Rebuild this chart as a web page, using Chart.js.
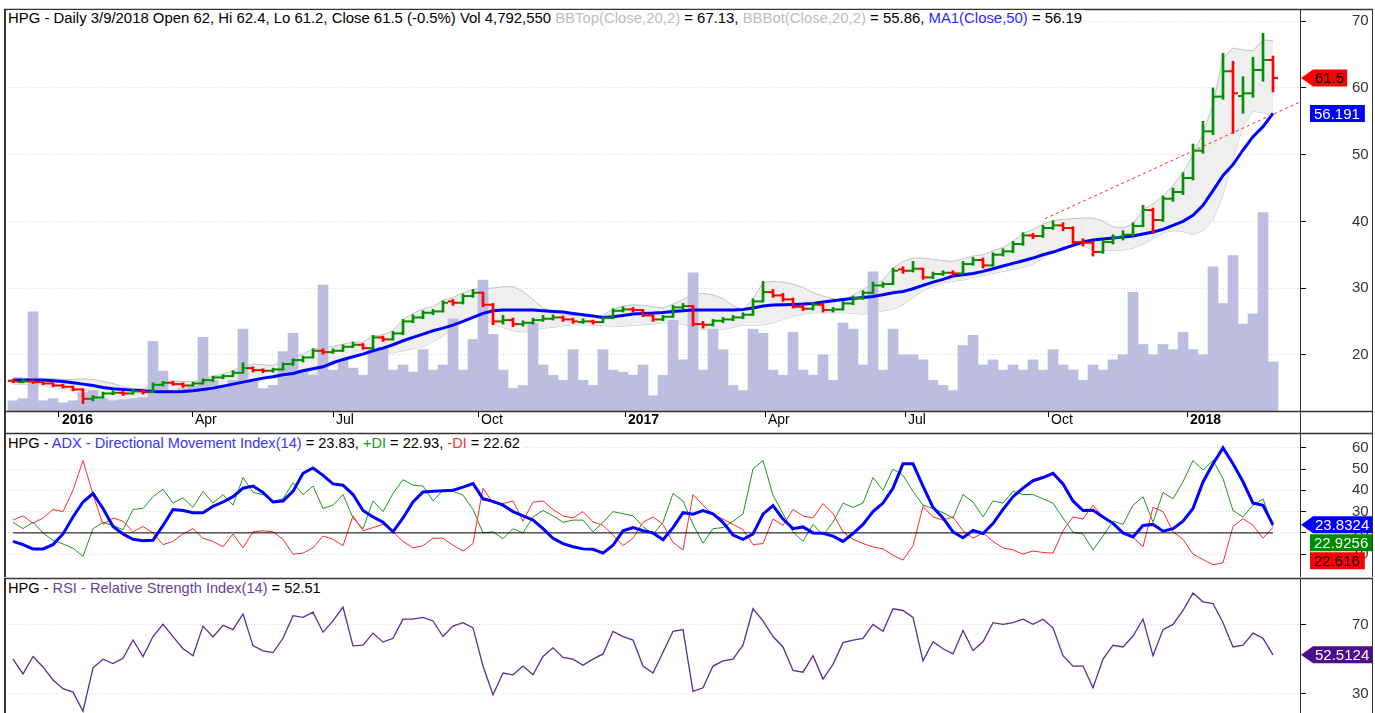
<!DOCTYPE html>
<html>
<head>
<meta charset="utf-8">
<title>HPG Daily</title>
<script src="https://cdn.jsdelivr.net/npm/chart.js@4.4.1/dist/chart.umd.min.js"></script>
<style>
  html, body { margin:0; padding:0; background:#fff; }
  body { width:1375px; height:713px; overflow:hidden; position:relative; font-family:"Liberation Sans", Arial, sans-serif; }
  .pane { position:absolute; left:0; width:1375px; }
  .pane canvas { display:block; }
  .ttl { position:absolute; left:8px; z-index:5; font-size:14.6px; line-height:16px; background:#fff; color:#000; white-space:nowrap; padding-right:3px; }
  .ttl.main { font-size:14.9px; }
</style>
</head>
<body>
<div class="pane" style="top:0;height:433px"><canvas id="cPrice" width="1375" height="433"></canvas></div>
<div class="pane" style="top:432px;height:145px"><canvas id="cAdx" width="1375" height="145"></canvas></div>
<div class="pane" style="top:577px;height:136px"><canvas id="cRsi" width="1375" height="136"></canvas></div>

<div class="ttl main" style="top:10px">HPG - Daily 3/9/2018 Open 62, Hi 62.4, Lo 61.2, Close 61.5 (-0.5%) Vol 4,792,550 <span style="color:#bdbdbd">BBTop(Close,20,2)</span> = 67.13, <span style="color:#bdbdbd">BBBot(Close,20,2)</span> = 55.86, <span style="color:#2b2bff">MA1(Close,50)</span> = 56.19</div>
<div class="ttl" style="top:435px">HPG - <span style="color:#3434ff">ADX - Directional Movement Index(14)</span> = 23.83, <span style="color:#1a9a1a">+DI</span> = 22.93, <span style="color:#ff3030">-DI</span> = 22.62</div>
<div class="ttl" style="top:580px">HPG - <span style="color:#6b3fa0">RSI - Relative Strength Index(14)</span> = 52.51</div>

<script>
// ---------------- DATA (one sample ≈ 4-5 trading days, Dec 2015 – 9 Mar 2018) ----------------
const openP = [16.1,15.9,16.0,15.9,15.7,15.4,15.2,14.8,13.4,13.6,
 14.2,14.3,14.2,14.5,14.4,15.5,15.8,15.6,15.4,15.7,
 16.2,16.6,16.8,17.3,18.0,17.7,17.6,17.8,18.6,19.2,
 19.6,20.6,20.4,20.6,21.2,21.5,21.0,22.6,22.3,23.2,
 25.0,25.6,26.3,26.5,28.0,27.8,28.8,29.3,27.5,25.0,
 25.2,24.6,24.8,25.2,25.4,25.6,25.3,24.9,25.0,24.9,
 25.5,26.6,26.8,26.7,25.9,25.3,25.7,27.1,27.3,24.6,
 24.5,25.1,25.3,25.6,26.0,28.0,29.4,28.9,28.3,27.2,
 26.9,27.5,26.7,26.8,27.7,28.5,29.3,30.4,30.6,32.8,
 32.6,32.9,31.6,32.1,32.3,32.2,33.6,34.2,33.4,35.0,
 35.5,36.6,37.9,37.8,39.0,39.4,39.0,36.9,36.8,35.4,
 36.9,37.6,38.0,39.3,41.7,40.2,43.4,44.4,46.5,50.6,
 53.5,58.7,62.5,58.8,59.2,62.7,64.2];
const highP = [16.3,16.3,16.2,16.0,15.8,15.6,15.3,14.9,13.9,14.4,
 14.6,14.5,14.8,14.7,15.8,16.0,16.0,15.8,15.9,16.4,
 16.8,17.0,17.6,18.8,18.2,17.9,18.0,18.8,19.4,19.8,
 20.9,20.9,20.9,21.5,21.9,21.7,22.9,22.8,23.5,25.3,
 26.0,26.6,26.8,28.1,28.3,29.1,29.8,29.4,27.7,25.9,
 25.5,25.1,25.5,25.9,26.0,25.8,25.5,25.4,25.2,25.7,
 26.9,27.2,27.1,26.8,26.0,25.9,27.4,27.7,27.4,25.0,
 25.3,25.6,25.9,26.3,28.4,31.0,29.8,29.2,28.5,27.5,
 27.8,27.7,27.1,28.0,28.8,29.6,30.9,30.9,33.0,33.2,
 34.0,33.0,32.4,32.6,32.6,34.0,34.6,34.5,35.3,35.9,
 37.0,38.3,38.2,39.4,40.1,39.8,39.2,37.4,37.0,37.2,
 38.0,38.6,39.8,42.4,42.0,43.8,45.0,47.3,51.6,55.0,
 60.0,65.2,64.0,61.7,64.6,68.2,64.8];
const lowP = [15.8,15.8,15.7,15.5,15.2,15.0,14.6,12.7,13.1,13.5,
 14.0,13.9,14.1,14.1,14.3,15.3,15.4,15.1,15.3,15.6,
 16.0,16.4,16.7,17.2,17.4,17.3,17.4,17.7,18.4,18.9,
 19.5,20.1,20.2,20.5,21.1,20.8,20.9,22.0,22.2,23.0,
 24.8,25.4,26.0,26.4,27.4,27.6,28.6,27.2,24.5,24.6,
 24.2,24.3,24.6,25.0,25.2,25.0,24.7,24.7,24.6,24.8,
 25.4,26.4,26.4,25.7,25.0,25.1,25.6,26.9,24.3,24.0,
 24.3,24.8,25.1,25.4,25.9,27.9,28.6,28.0,27.0,26.6,
 26.7,26.4,26.4,26.7,27.5,28.3,29.2,30.1,30.5,32.2,
 32.4,31.3,31.4,31.9,31.9,32.1,33.4,33.0,33.3,34.8,
 35.3,36.4,37.4,37.6,38.8,38.6,36.6,36.3,34.8,35.2,
 36.6,37.2,37.8,39.2,38.2,40.0,43.0,44.0,46.2,50.2,
 53.0,58.3,53.2,56.2,58.6,61.0,59.4];
const closeP = [16.0,16.0,15.9,15.7,15.4,15.2,14.8,13.4,13.6,14.2,
 14.3,14.2,14.5,14.4,15.5,15.8,15.6,15.4,15.7,16.2,
 16.6,16.8,17.3,18.0,17.7,17.6,17.8,18.6,19.2,19.6,
 20.6,20.4,20.6,21.2,21.5,21.0,22.6,22.3,23.2,25.0,
 25.6,26.3,26.5,27.8,27.8,28.8,29.3,27.5,25.0,25.2,
 24.6,24.8,25.2,25.4,25.6,25.3,25.0,25.0,24.9,25.5,
 26.6,26.8,26.7,25.9,25.3,25.7,27.1,27.3,24.6,24.5,
 25.1,25.3,25.6,26.0,28.0,29.4,28.9,28.3,27.2,26.9,
 27.5,26.7,26.8,27.7,28.5,29.3,30.4,30.6,32.6,32.6,
 32.9,31.6,32.1,32.3,32.2,33.6,34.2,33.4,35.0,35.5,
 36.6,37.9,37.8,39.0,39.4,39.0,36.9,36.8,35.4,36.9,
 37.6,38.0,39.3,41.7,40.2,43.4,44.4,46.5,50.6,53.5,
 58.7,62.5,59.2,59.2,62.7,64.2,61.5];
const volumeM = [1.0,1.2,9.7,1.0,1.2,0.8,1.0,1.8,2.0,1.2,
 1.0,1.1,1.2,1.3,6.8,3.9,2.0,2.2,2.4,7.2,
 3.0,2.5,3.0,8.0,3.0,2.2,2.5,5.8,7.6,4.0,
 3.5,12.3,4.0,5.0,4.2,3.5,6.0,6.2,4.0,4.5,
 3.8,6.0,4.0,4.5,9.0,4.0,7.0,12.8,7.5,4.0,
 2.2,2.5,8.6,4.5,3.5,3.0,6.0,3.0,2.5,6.0,
 4.0,3.8,3.5,4.5,1.5,3.5,8.9,5.0,13.5,4.0,
 8.0,6.0,2.5,2.0,8.0,7.6,4.0,3.5,7.7,4.0,
 3.5,5.5,3.0,8.6,8.0,4.5,13.6,4.0,8.0,5.5,
 5.5,5.0,3.0,2.5,2.0,6.4,7.4,4.5,5.0,4.0,
 4.5,4.0,5.0,4.0,6.0,4.5,4.0,3.0,4.5,4.0,
 5.0,5.5,11.6,6.5,5.5,6.5,6.0,7.7,6.0,5.5,
 14.1,10.5,15.2,8.5,9.5,19.4,4.8];
const bbTop = [16.6,16.5,16.4,16.4,16.4,16.3,16.3,16.4,16.3,16.0,
 15.7,15.2,14.9,14.9,15.6,16.0,16.1,16.0,16.0,16.3,
 16.8,17.1,17.6,18.4,18.6,18.5,18.4,18.9,19.6,20.1,
 20.9,21.1,21.2,21.6,21.9,21.9,22.8,23.0,23.6,25.3,
 26.2,26.9,27.2,28.2,28.6,29.3,29.8,29.9,30.0,30.2,
 30.2,29.5,28.3,27.0,26.5,26.0,25.9,25.8,25.8,25.9,
 26.8,27.3,27.5,27.4,27.2,27.0,27.6,28.3,29.0,29.2,
 29.0,28.4,27.4,26.6,28.4,30.8,31.0,30.9,30.6,30.1,
 29.3,28.8,28.4,28.3,28.9,29.8,30.6,31.2,33.0,34.0,
 34.5,34.5,34.3,34.1,34.0,34.4,34.8,35.0,35.6,36.1,
 37.0,38.2,38.8,39.6,40.1,40.3,40.4,40.5,40.5,40.0,
 39.2,39.0,39.6,41.8,42.6,43.8,45.4,47.3,50.0,53.2,
 57.5,64.5,66.0,65.7,65.6,67.2,67.1];
const bbBot = [15.6,15.6,15.6,15.4,15.1,14.9,14.6,13.2,12.6,12.5,
 12.7,13.0,13.4,13.7,13.6,13.6,13.9,14.8,15.1,15.0,
 14.9,15.0,15.2,15.2,15.6,16.3,16.8,16.9,16.8,16.9,
 17.0,17.6,18.6,19.3,19.7,20.2,20.1,20.3,20.3,20.6,
 20.9,21.2,22.0,22.8,24.0,25.0,25.6,25.5,24.6,24.1,
 23.6,23.4,23.6,24.0,24.1,24.4,24.5,24.5,24.4,24.4,
 24.2,24.3,24.4,24.5,24.6,24.8,24.7,24.6,24.0,23.8,
 23.7,23.8,24.1,24.5,24.4,24.5,24.8,25.3,25.8,26.1,
 26.3,26.3,26.3,26.3,26.2,26.1,26.3,26.6,26.8,27.5,
 28.6,29.6,30.3,30.8,31.0,31.2,31.6,31.9,32.2,32.5,
 32.8,33.1,33.6,34.5,35.5,36.2,36.6,36.3,35.7,35.6,
 35.7,35.7,36.0,36.6,37.4,38.3,38.6,38.5,38.0,38.6,
 40.2,44.0,49.5,54.2,56.5,56.3,55.9];
const ma50 = [16.2,16.2,16.2,16.2,16.1,16.0,15.8,15.6,15.4,15.1,
 14.9,14.8,14.7,14.6,14.5,14.45,14.45,14.5,14.6,14.8,
 15.0,15.3,15.6,15.9,16.2,16.5,16.7,17.0,17.2,17.6,
 17.9,18.2,18.8,19.3,19.7,20.1,20.6,21.0,21.5,22.1,
 22.6,23.1,23.6,24.0,24.45,25.0,25.6,26.2,26.6,26.7,
 26.7,26.7,26.7,26.6,26.5,26.4,26.2,26.0,25.8,25.6,
 25.7,25.9,26.1,26.2,26.25,26.35,26.5,26.6,26.7,26.7,
 26.7,26.7,26.7,26.8,27.0,27.3,27.45,27.5,27.55,27.6,
 27.7,27.9,28.1,28.3,28.45,28.6,28.75,29.0,29.3,29.5,
 29.9,30.4,30.9,31.3,31.8,32.0,32.2,32.5,32.9,33.3,
 33.7,34.1,34.5,35.0,35.4,35.9,36.4,36.9,37.2,37.35,
 37.5,37.65,37.8,38.1,38.4,38.8,39.4,40.0,40.9,42.4,
 44.6,46.9,48.5,50.7,52.7,54.2,56.2];
const adx = [16.0,14.5,12.5,12.5,14.5,19.5,27.5,34.5,38.5,31.5,
 23.0,19.5,17.0,16.3,16.5,23.5,31.0,30.5,29.5,29.5,
 32.5,34.5,37.0,41.0,42.0,39.0,34.5,35.0,39.5,48.0,
 50.5,47.0,43.0,42.4,38.0,30.5,27.5,25.0,20.5,27.0,
 34.5,39.2,39.5,39.8,40.0,41.5,43.2,36.0,34.8,33.0,
 30.0,28.0,26.0,22.0,17.5,15.0,13.5,12.5,12.3,10.5,
 14.2,21.0,22.5,21.0,20.0,16.8,22.5,29.5,28.8,30.5,
 29.0,25.0,19.0,17.0,19.5,28.8,32.8,26.5,22.0,22.8,
 20.0,19.8,18.5,16.0,19.7,24.0,30.0,34.0,41.0,52.5,
 52.5,42.0,32.0,27.0,20.5,17.7,21.2,19.7,24.4,31.0,
 37.0,41.0,44.5,46.0,48.0,43.0,35.0,30.5,30.6,27.5,
 24.5,20.0,18.1,23.5,24.0,20.8,22.0,25.5,31.5,43.9,
 52.5,59.9,52.5,44.0,34.0,33.0,23.8];
const plusDI = [25.0,22.0,25.0,20.0,16.5,14.8,12.8,9.0,22.0,25.0,
 23.5,21.5,31.0,31.5,37.0,40.5,34.0,36.5,32.0,39.5,
 34.0,38.0,33.0,46.0,39.0,38.0,34.8,36.0,43.5,38.0,
 42.0,31.5,33.0,38.0,27.0,22.0,35.0,30.0,38.5,45.0,
 42.4,42.0,35.0,40.0,39.5,37.7,31.0,20.0,20.5,17.3,
 22.0,20.0,27.5,30.5,28.0,25.0,26.0,26.0,20.5,25.0,
 30.0,29.0,28.0,23.0,19.3,25.0,38.5,35.0,24.0,15.2,
 22.0,22.5,25.5,28.8,50.0,54.0,37.7,29.0,20.5,16.0,
 24.0,19.0,25.0,34.0,32.0,34.0,46.0,40.0,50.0,47.0,
 39.5,33.0,31.5,29.5,27.0,38.0,34.5,27.5,35.0,34.0,
 39.5,38.0,38.0,36.0,34.0,27.0,20.3,19.5,12.0,18.5,
 25.5,24.0,33.0,37.0,25.0,39.0,36.0,44.0,54.0,49.5,
 54.0,45.5,30.5,27.5,33.0,36.0,22.9];
const minusDI = [26.0,28.0,24.5,27.0,31.0,30.0,40.0,54.0,38.0,24.0,
 27.0,25.5,20.5,23.0,20.0,14.5,16.0,19.5,22.0,17.5,
 16.0,13.5,19.5,13.0,20.5,21.0,20.5,17.0,10.0,10.5,
 13.0,18.5,17.0,14.0,28.0,21.0,22.5,24.0,20.5,16.0,
 13.0,14.0,17.5,17.5,14.2,11.5,15.0,41.0,34.0,33.8,
 35.0,25.5,34.5,35.0,31.0,28.0,27.0,30.0,25.2,23.5,
 19.0,14.0,17.5,25.0,27.5,24.0,15.5,12.0,38.0,33.0,
 28.5,26.5,24.0,21.5,14.5,15.0,26.5,23.6,31.0,28.0,
 27.0,33.8,29.0,20.5,17.0,15.0,13.4,12.5,9.5,7.2,
 14.0,32.5,27.5,26.0,27.5,21.0,17.5,20.0,16.0,13.0,
 12.0,10.0,11.5,10.8,10.5,21.0,27.5,26.5,33.0,27.5,
 24.0,20.5,18.0,13.5,32.0,30.0,20.5,17.0,10.0,7.5,
 5.0,6.0,23.0,26.7,23.6,17.5,22.6];
const rsi = [50.0,41.5,51.5,45.5,38.0,33.0,31.0,20.0,45.0,50.0,
 47.5,50.5,61.0,51.5,63.0,70.0,63.0,56.0,52.0,69.0,
 62.8,69.5,67.0,76.0,57.8,54.8,53.8,62.0,75.0,74.0,
 77.0,65.5,72.0,80.0,57.6,58.0,65.0,59.8,62.0,73.0,
 73.0,74.0,72.0,63.0,69.0,71.0,68.0,46.0,29.5,42.0,
 41.0,46.0,41.0,51.5,56.5,51.0,50.0,46.5,50.0,53.0,
 66.0,63.0,61.0,46.0,42.0,54.0,66.0,67.0,31.5,33.5,
 46.0,49.0,50.0,58.0,79.0,72.0,63.0,57.0,43.5,42.5,
 52.0,38.5,47.0,59.5,61.0,62.0,70.0,66.0,79.0,78.0,
 74.0,49.0,60.0,56.0,53.0,66.5,55.0,60.0,71.0,70.0,
 71.0,73.0,70.0,73.0,68.0,52.0,46.0,46.0,33.5,50.0,
 58.0,57.0,63.3,73.0,52.0,67.0,70.0,78.0,88.0,83.0,
 82.0,71.0,57.0,58.0,65.0,62.0,52.5];

// date axis: positions (sample index) and labels
const tickIdx = [4.6, 17.9, 32.0, 46.5, 61.2, 75.2, 89.2, 103.5, 117.4];
const tickLabels = ['2016','Apr','Jul','Oct','2017','Apr','Jul','Oct','2018'];
const priceTicks = [20, 30, 40, 50, 60, 70];
const adxTicks = [10, 20, 30, 40, 50, 60];
const rsiTicks = [30, 70];
// red dashed trend line (sample index, price)
const trendX = [103.2, 128.7];
const trendY = [40.4, 57.9];
// ADX reference level
const refX = [0, 126];
const refY = [20, 20];
// last values shown on the right axis
const tagPriceVals = [61.5, 56.191];
const tagAdxVals = [23.8324, 22.9256, 22.616];
const tagRsiVals = [52.5124];

// ---------------- CHARTS ----------------
const FONT = '"Liberation Sans", Arial, sans-serif';
Chart.defaults.font.family = FONT;
const GRID = '#d3d3ea';
const X_MIN = -0.8, X_MAX = 128.7;

const xy = arr => arr.map((v, i) => ({ x: i, y: v }));
const barColors = closeP.map((c, i) => c >= openP[i] ? '#009000' : '#ff0000');

const framePlugin = {
  id: 'frame',
  afterDraw(chart, args, opts) {
    const { ctx, chartArea: a } = chart;
    const ys = chart.scales.y;
    const W = chart.width, H = chart.height;
    ctx.save();
    ctx.strokeStyle = '#333';
    const line = (x1, y1, x2, y2, w) => { ctx.lineWidth = w; ctx.beginPath(); ctx.moveTo(x1, y1); ctx.lineTo(x2, y2); ctx.stroke(); };
    line(4, a.top + 0.5, W - 2, a.top + 0.5, 1.5);
    line(5, a.top, 5, H, 2);
    line(a.right + 0.5, a.top, a.right + 0.5, H, 1);
    line(W - 2.5, a.top, W - 2.5, H, 1);
    if (opts.bottomLine) line(4, a.bottom + 0.5, W - 2, a.bottom + 0.5, 1.5);

    ctx.font = '15px ' + FONT;
    ctx.textBaseline = 'middle';
    ctx.textAlign = 'left';
    const h = 17;
    let prevBottom = -1e9;
    for (const t of (opts.tags || [])) {
      let yc = ys.getPixelForValue(t.value);
      if (yc - h / 2 < prevBottom + 1) yc = prevBottom + 1 + h / 2;
      const tw = ctx.measureText(t.text).width;
      ctx.fillStyle = t.bg;
      ctx.beginPath();
      let tx;
      if (t.shape === 'arrow') {
        const tip = a.right + 1, bl = a.right + 13, br = Math.min(bl + tw + 5, W - 3);
        ctx.moveTo(tip, yc); ctx.lineTo(bl, yc - h / 2); ctx.lineTo(br, yc - h / 2);
        ctx.lineTo(br, yc + h / 2); ctx.lineTo(bl, yc + h / 2); ctx.closePath();
        tx = bl + 2;
      } else {
        const l = a.right + 10, r = Math.min(l + tw + 9, W - 3);
        ctx.rect(l, yc - h / 2, r - l, h);
        tx = l + 4;
      }
      ctx.fill();
      ctx.fillStyle = t.fg;
      ctx.fillText(t.text, tx, yc + 1);
      prevBottom = yc + h / 2;
    }
    ctx.restore();
  }
};

function yScale(min, max, ticksArr) {
  return {
    type: 'linear', position: 'right', min, max,
    afterBuildTicks: s => { s.ticks = ticksArr.map(v => ({ value: v })); },
    afterFit: s => { s.width = 75; s.paddingTop = 0; s.paddingBottom = 0; },
    grid: { color: GRID, lineWidth: 1, drawTicks: true, tickLength: 6, tickColor: '#000', tickWidth: 1 },
    border: { display: true, color: '#000', width: 1, dash: [1, 2] },
    ticks: { padding: 46, color: '#333', font: { family: FONT, size: 15 } }
  };
}
function xHidden() {
  return { type: 'linear', min: X_MIN, max: X_MAX, display: false, offset: false };
}
const common = {
  responsive: false, animation: false, devicePixelRatio: 1, events: [],
  plugins: { legend: { display: false }, tooltip: { enabled: false } }
};

// ---- price pane ----
new Chart(document.getElementById('cPrice'), {
  type: 'bar',
  data: {
    datasets: [
      { type: 'line', label: 'BBTop', data: xy(bbTop), yAxisID: 'y', xAxisID: 'x', borderColor: '#c2c2c2', borderWidth: 1, pointRadius: 0, fill: '+1', backgroundColor: '#efefef', order: 10 },
      { type: 'line', label: 'BBBot', data: xy(bbBot), yAxisID: 'y', xAxisID: 'x', borderColor: '#c2c2c2', borderWidth: 1, pointRadius: 0, fill: false, order: 10 },
      { type: 'bar', label: 'Vol', data: xy(volumeM), yAxisID: 'vol', xAxisID: 'x', backgroundColor: '#bdbde0', barPercentage: 1, categoryPercentage: 1, grouped: false, order: 9 },
      { type: 'line', label: 'MA', data: xy(ma50), yAxisID: 'y', xAxisID: 'x', borderColor: '#0000ff', borderWidth: 3, pointRadius: 0, order: 5 },
      { type: 'bar', label: 'HL', data: closeP.map((c, i) => ({ x: i, y: [lowP[i], highP[i]] })), yAxisID: 'y', xAxisID: 'x', backgroundColor: barColors, barThickness: 2, grouped: false, order: 3 },
      { type: 'scatter', label: 'O', data: openP.map((o, i) => ({ x: i - 0.25, y: o })), yAxisID: 'y', xAxisID: 'x', pointStyle: 'line', pointRadius: 2.5, pointHoverRadius: 0, pointBorderWidth: 2, pointBorderColor: barColors, pointBackgroundColor: barColors, order: 2 },
      { type: 'scatter', label: 'C', data: closeP.map((c, i) => ({ x: i + 0.25, y: c })), yAxisID: 'y', xAxisID: 'x', pointStyle: 'line', pointRadius: 2.5, pointHoverRadius: 0, pointBorderWidth: 2, pointBorderColor: barColors, pointBackgroundColor: barColors, order: 2 },
      { type: 'line', label: 'Trend', data: trendX.map((x, k) => ({ x, y: trendY[k] })), yAxisID: 'y', xAxisID: 'x', borderColor: '#ff2a2a', borderWidth: 1, borderDash: [3, 3], pointRadius: 0, order: 1 }
    ]
  },
  options: Object.assign({}, common, {
    layout: { padding: { left: 5, top: 9, right: 0, bottom: 0 } },
    scales: {
      x: {
        type: 'linear', min: X_MIN, max: X_MAX, position: 'bottom', offset: false,
        grid: { drawOnChartArea: false, drawTicks: true, tickLength: 6, color: '#000', lineWidth: 1, offset: false },
        border: { display: false },
        afterBuildTicks: s => { s.ticks = tickIdx.map(v => ({ value: v })); },
        afterFit: s => { s.height = 22; s.paddingLeft = 0; s.paddingRight = 0; },
        ticks: {
          autoSkip: false, maxRotation: 0, minRotation: 0, align: 'start', labelOffset: 3, padding: -5,
          color: '#000',
          font: ctx => ({ family: FONT, size: 14, weight: /^\d{4}$/.test(tickLabels[ctx.index] || '') ? 'bold' : 'normal' }),
          callback: (v, i) => tickLabels[i]
        }
      },
      y: yScale(11.57, 71.84, priceTicks),
      vol: { type: 'linear', display: false, min: 0, max: 39.3 }
    },
    plugins: Object.assign({}, common.plugins, {
      frame: {
        bottomLine: true,
        tags: [
          { value: tagPriceVals[0], text: String(tagPriceVals[0]), shape: 'arrow', bg: '#ff0000', fg: '#000' },
          { value: tagPriceVals[1], text: String(tagPriceVals[1]), shape: 'rect', bg: '#0000ff', fg: '#fff' }
        ]
      }
    })
  }),
  plugins: [framePlugin]
});

// ---- ADX pane ----
new Chart(document.getElementById('cAdx'), {
  type: 'line',
  data: {
    datasets: [
      { label: '+DI', data: xy(plusDI), borderColor: '#1a991a', borderWidth: 1, pointRadius: 0, order: 4 },
      { label: '-DI', data: xy(minusDI), borderColor: '#ff2a2a', borderWidth: 1, pointRadius: 0, order: 3 },
      { label: 'ref', data: refX.map((x, k) => ({ x, y: refY[k] })), borderColor: '#000', borderWidth: 1, pointRadius: 0, order: 2 },
      { label: 'ADX', data: xy(adx), borderColor: '#0000ff', borderWidth: 3, pointRadius: 0, order: 1 }
    ]
  },
  options: Object.assign({}, common, {
    layout: { padding: { left: 5, top: 1, right: 0, bottom: 0 } },
    scales: { x: xHidden(), y: yScale(-0.7, 66.9, adxTicks) },
    plugins: Object.assign({}, common.plugins, {
      frame: {
        tags: [
          { value: tagAdxVals[0], text: String(tagAdxVals[0]), shape: 'arrow', bg: '#0000ff', fg: '#fff' },
          { value: tagAdxVals[1], text: String(tagAdxVals[1]), shape: 'rect', bg: '#008a00', fg: '#fff' },
          { value: tagAdxVals[2], text: String(tagAdxVals[2]), shape: 'rect', bg: '#ff0000', fg: '#000' }
        ]
      }
    })
  }),
  plugins: [framePlugin]
});

// ---- RSI pane ----
new Chart(document.getElementById('cRsi'), {
  type: 'line',
  data: {
    datasets: [
      { label: 'RSI', data: xy(rsi), borderColor: '#5a2d91', borderWidth: 1.3, pointRadius: 0 }
    ]
  },
  options: Object.assign({}, common, {
    layout: { padding: { left: 5, top: 1, right: 0, bottom: 0 } },
    scales: { x: xHidden(), y: yScale(19.0, 96.7, rsiTicks) },
    plugins: Object.assign({}, common.plugins, {
      frame: {
        tags: [
          { value: tagRsiVals[0], text: String(tagRsiVals[0]), shape: 'arrow', bg: '#4b0f8c', fg: '#fff' }
        ]
      }
    })
  }),
  plugins: [framePlugin]
});
</script>
</body>
</html>
